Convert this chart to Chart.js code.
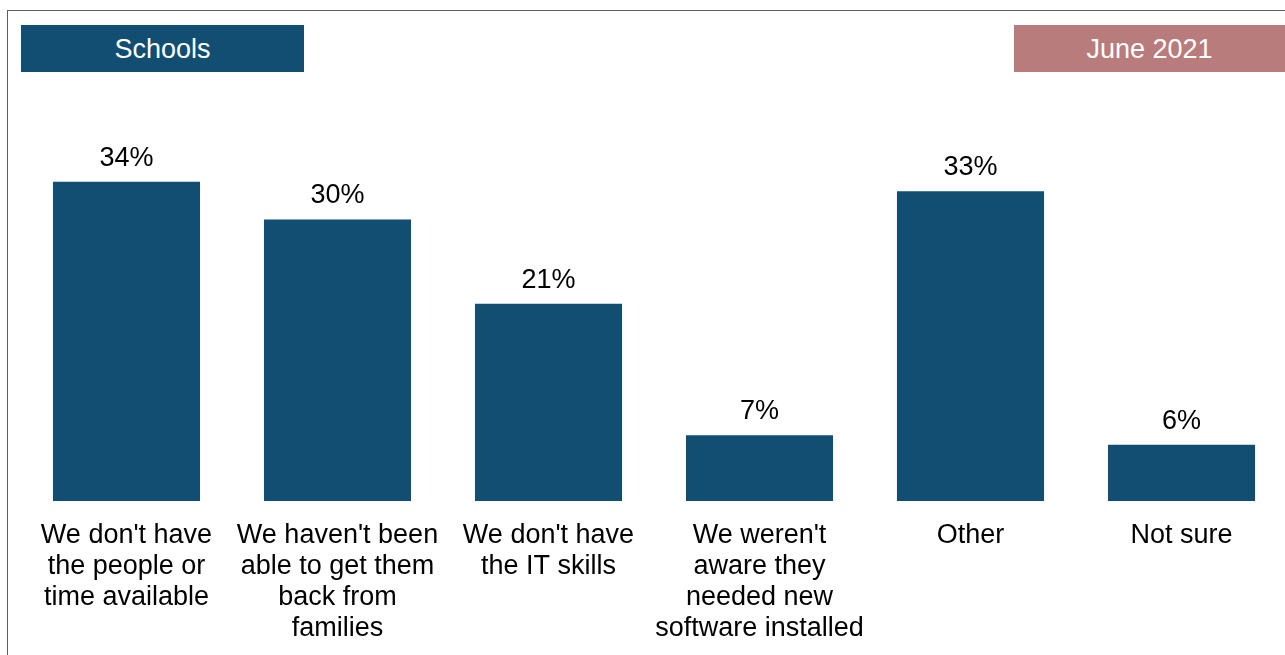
<!DOCTYPE html>
<html>
<head>
<meta charset="utf-8">
<script src="https://cdn.jsdelivr.net/npm/chart.js@4"></script>
<style>
  html, body { margin: 0; padding: 0; background: #fff; overflow: hidden; width: 1285px; height: 655px; }
  #frame { position: absolute; left: 7px; top: 10px; width: 1300px; height: 700px; border-left: 1px solid #606060; border-top: 1px solid #606060; }
  .tag { position: absolute; top: 25px; height: 47px; line-height: 48px; color: #fff; text-align: center;
         font-family: Arial, "Liberation Sans", sans-serif; font-size: 27px; }
  #schools { left: 21px; width: 283px; background: #114e72; }
  #month { left: 1014px; width: 271px; background: #b97c7c; }
  #wrap { position: absolute; left: 0; top: 0; width: 1300px; height: 680px; }
</style>
</head>
<body>
<div id="frame"></div>
<div id="wrap"><canvas id="grafico"></canvas></div>
<div class="tag" id="schools">Schools</div>
<div class="tag" id="month">June 2021</div>
<script>
var CATEGORIAS = [
    ["We don't have", "the people or", "time available"],
    ["We haven't been", "able to get them", "back from", "families"],
    ["We don't have", "the IT skills"],
    ["We weren't", "aware they", "needed new", "software installed"],
    ["Other"],
    ["Not sure"]
];
var VALORES = [34, 30, 21, 7, 33, 6];
var FUENTE = "Arial, 'Liberation Sans', sans-serif";

var etiquetas = {
    id: "etiquetas",
    afterDatasetsDraw: function(chart) {
        var ctx = chart.ctx;
        var meta = chart.getDatasetMeta(0);
        ctx.save();
        ctx.font = "27px " + FUENTE;
        ctx.fillStyle = "#000";
        ctx.textAlign = "center";
        ctx.textBaseline = "alphabetic";
        meta.data.forEach(function(bar, i) {
            ctx.fillText(VALORES[i] + "%", bar.x, bar.y - 16);
        });
        ctx.restore();
    }
};

function mostrarGrafico() {
    var ctx = document.getElementById("grafico").getContext("2d");
    new Chart(ctx, {
        type: "bar",
        data: {
            labels: CATEGORIAS,
            datasets: [
                {
                    data: VALORES,
                    backgroundColor: "#114e72",
                    borderWidth: 0,
                    categoryPercentage: 1,
                    barPercentage: 0.697
                }
            ]
        },
        options: {
            responsive: false,
            animation: false,
            layout: {
                padding: { left: 21, right: 13, top: 125.5, bottom: 8 }
            },
            plugins: {
                legend: { display: false },
                tooltip: { enabled: false }
            },
            scales: {
                y: {
                    display: false,
                    min: 0,
                    max: 40
                },
                x: {
                    grid: { display: false, drawTicks: false },
                    border: { display: false },
                    ticks: {
                        color: "#000",
                        padding: 19,
                        autoSkip: false,
                        maxRotation: 0,
                        font: { family: FUENTE, size: 27, lineHeight: 1.148 }
                    }
                }
            }
        },
        plugins: [etiquetas]
    });
}

var cv = document.getElementById("grafico");
cv.width = 1300;
cv.height = 671;
cv.style.width = "1300px";
cv.style.height = "671px";
mostrarGrafico();
</script>
</body>
</html>
